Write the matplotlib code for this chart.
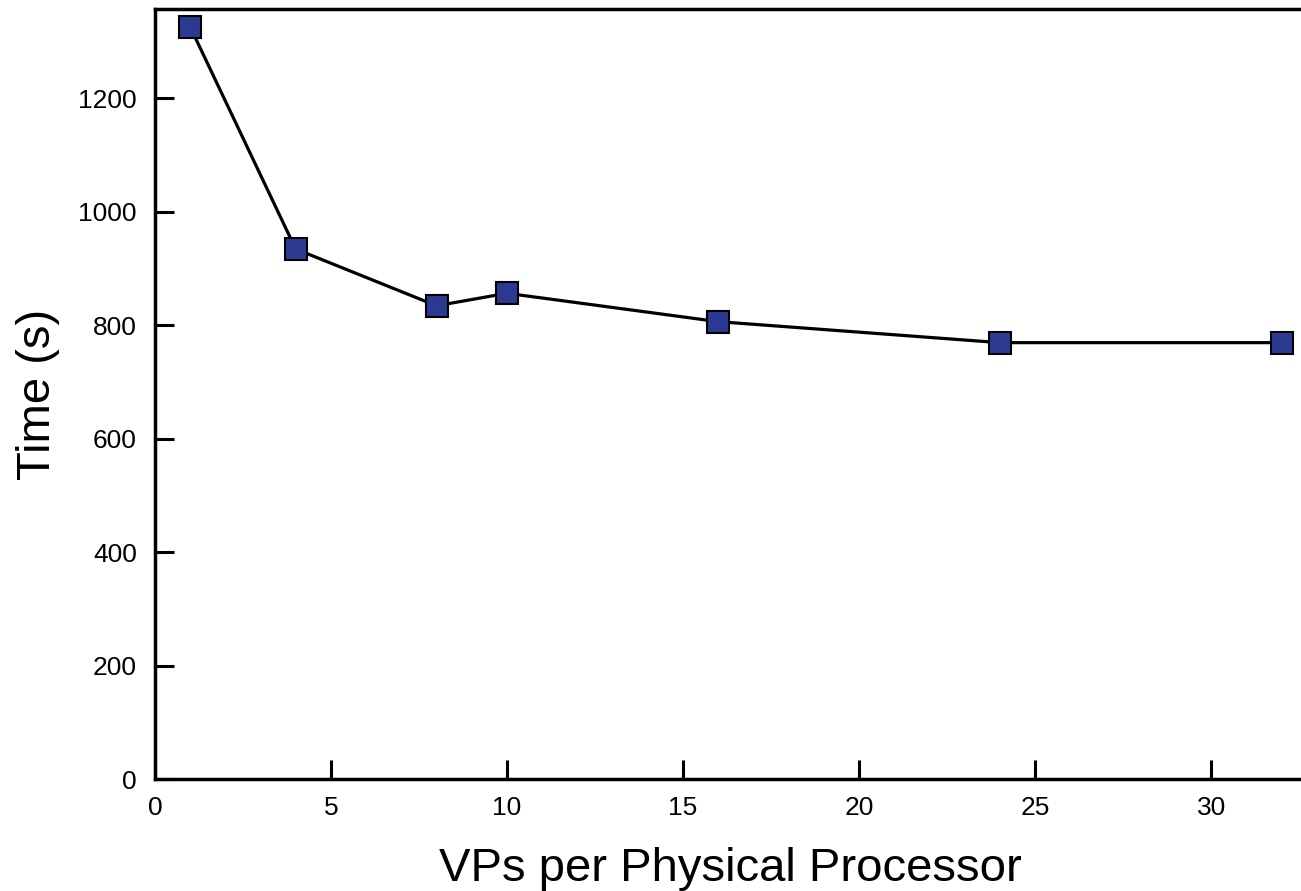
import matplotlib.pyplot as plt

vps = [1, 4, 8, 10, 16, 24, 32]
times = [1326, 934, 834, 856, 806, 769, 769]
xticks = [0, 5, 10, 15, 20, 25, 30]
yticks = [0, 200, 400, 600, 800, 1000, 1200]

plt.rcParams['font.family'] = ['Liberation Sans', 'DejaVu Sans']

fig = plt.figure(figsize=(13.01, 8.91), dpi=100)
ax = fig.add_axes([0.119, 0.1257, 0.885, 0.8642])

ax.plot(vps, times, color='black', linewidth=2.3, marker='s', markersize=16.5,
        markerfacecolor='#2b3990', markeredgecolor='black', markeredgewidth=1.5,
        clip_on=False, zorder=3)

ax.set_xlim(0, 32.7)
ax.set_ylim(0, 1357)
ax.set_xticks(xticks)
ax.set_yticks(yticks)
ax.tick_params(direction='in', length=14, width=2.2, labelsize=19, pad=12)
ax.tick_params(axis='y', pad=13)
ax.spines['right'].set_visible(False)
for s in ['left', 'bottom', 'top']:
    ax.spines[s].set_linewidth(2.5)

ax.set_xlabel('VPs per Physical Processor', fontsize=34, labelpad=20)
ax.set_ylabel('Time (s)', fontsize=34, labelpad=13)

fig.savefig('out.png', dpi=100)
